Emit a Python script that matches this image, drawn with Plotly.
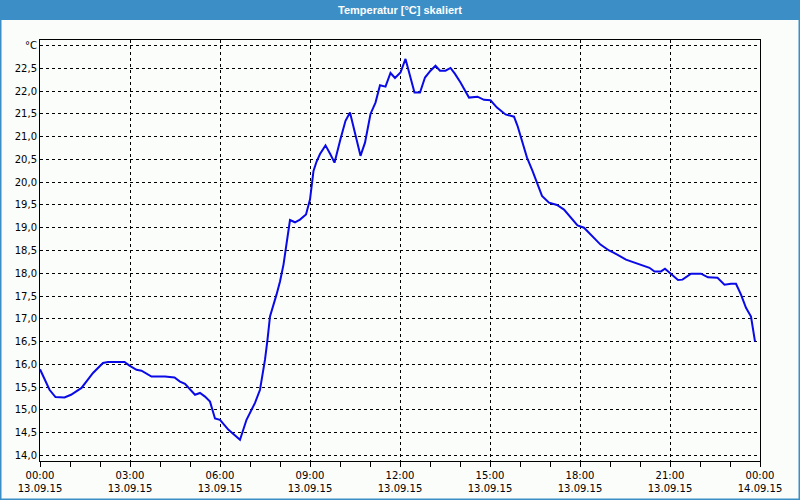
import plotly.graph_objects as go

# ---- data ----
times = ["00:00","00:10","00:19","00:31","00:49","01:02","01:23","01:46","02:06","02:16",
         "02:49","02:59","03:13","03:23","03:43","04:10","04:29","04:40","04:50","05:10",
         "05:20","05:30","05:40","05:50","06:00","06:17","06:30","06:40","06:53","07:10",
         "07:20","07:30","07:35","07:40","07:53","08:00","08:07","08:13","08:20","08:30",
         "08:40","08:52","09:00","09:07","09:13","09:20","09:31","09:41","09:49","10:01",
         "10:11","10:20","10:31","10:41","10:50","11:01","11:11","11:20","11:31","11:41",
         "11:50","12:01","12:11","12:20","12:29","12:40","12:50","13:01","13:11","13:20",
         "13:31","13:41","13:50","14:01","14:08","14:18","14:35","14:48","15:01","15:14",
         "15:31","15:48","15:55","16:05","16:14","16:25","16:35","16:44","16:58","17:14",
         "17:28","17:41","17:55","18:08","18:25","18:41","18:58","19:08","19:32","19:59",
         "20:19","20:29","20:42","20:50","21:01","21:16","21:25","21:42","22:02","22:16",
         "22:35","22:49","23:02","23:12","23:22","23:32","23:42","23:50"]
temps = [15.89,15.66,15.44,15.28,15.27,15.33,15.48,15.81,16.03,16.05,
         16.05,15.97,15.88,15.86,15.73,15.73,15.71,15.62,15.57,15.33,
         15.37,15.29,15.18,14.81,14.78,14.56,14.43,14.34,14.78,15.15,
         15.44,16.10,16.54,17.05,17.53,17.82,18.19,18.67,19.17,19.12,
         19.18,19.29,19.62,20.25,20.45,20.62,20.81,20.61,20.43,20.95,
         21.35,21.53,21.02,20.58,20.87,21.50,21.75,22.13,22.10,22.40,
         22.29,22.41,22.71,22.34,21.97,21.97,22.30,22.45,22.56,22.45,
         22.45,22.51,22.38,22.19,22.06,21.86,21.88,21.81,21.80,21.64,
         21.49,21.44,21.24,20.87,20.54,20.25,19.95,19.70,19.55,19.50,
         19.40,19.22,19.05,19.00,18.80,18.63,18.50,18.45,18.30,18.19,
         18.12,18.04,18.04,18.10,17.99,17.85,17.86,17.99,17.99,17.91,
         17.90,17.75,17.77,17.77,17.53,17.24,17.05,16.50]

x_tick_vals = ["2015-09-13 00:00","2015-09-13 03:00","2015-09-13 06:00","2015-09-13 09:00",
               "2015-09-13 12:00","2015-09-13 15:00","2015-09-13 18:00","2015-09-13 21:00",
               "2015-09-14 00:00"]
x_tick_text = ["00:00<br>13.09.15","03:00<br>13.09.15","06:00<br>13.09.15","09:00<br>13.09.15",
               "12:00<br>13.09.15","15:00<br>13.09.15","18:00<br>13.09.15","21:00<br>13.09.15",
               "00:00<br>14.09.15"]
y_tick_vals = [14.0,14.5,15.0,15.5,16.0,16.5,17.0,17.5,18.0,18.5,19.0,19.5,20.0,20.5,21.0,21.5,22.0,22.5,23.0]
y_tick_text = ["14,0","14,5","15,0","15,5","16,0","16,5","17,0","17,5","18,0","18,5",
               "19,0","19,5","20,0","20,5","21,0","21,5","22,0","22,5","°C"]
title_text = "Temperatur [°C] skaliert"

x = ["2015-09-13 " + t for t in times]

W, H = 800, 500
L, R, T, B = 40, 40, 40, 39
pw, ph = W - L - R, H - T - B

def px(xp):
    return (xp - L) / pw

def py(yp):
    return (H - B - yp) / ph

fig = go.Figure()
fig.add_trace(go.Scatter(x=x, y=temps, mode="lines",
                         line=dict(color="#0a0ae6", width=2), hoverinfo="skip"))

font = dict(family="DejaVu Sans", size=10, color="#000000")
fig.update_layout(
    template="none",
    width=W, height=H,
    margin=dict(l=L, r=R, t=T, b=B, pad=0),
    paper_bgcolor="#fbfdfb", plot_bgcolor="#fbfdfb",
    showlegend=False,
    font=font,
    xaxis=dict(type="date", range=["2015-09-13 00:00", "2015-09-14 00:00"], automargin=False,
               tickmode="array", tickvals=x_tick_vals, ticktext=x_tick_text,
               showgrid=True, gridcolor="#000000", gridwidth=1, griddash="3px,3px",
               showline=True, linecolor="#000000", linewidth=1, mirror=True,
               ticks="outside", ticklen=5, tickcolor="#000000",
               minor=dict(dtick=3600000, ticks="outside", ticklen=5, tickcolor="#000000", showgrid=False),
               tickfont=font, zeroline=False, fixedrange=True),
    yaxis=dict(range=[13.875, 23.125], automargin=False,
               tickmode="array", tickvals=y_tick_vals, ticktext=y_tick_text,
               showgrid=True, gridcolor="#000000", gridwidth=1, griddash="3px,3px",
               showline=True, linecolor="#000000", linewidth=1, mirror=True,
               ticks="", tickfont=font, zeroline=False, fixedrange=True),
    shapes=[
        dict(type="rect", xref="paper", yref="paper", x0=px(0), x1=px(W), y0=py(20), y1=py(0),
             fillcolor="#3c8fc6", line=dict(width=0), layer="above"),
        dict(type="rect", xref="paper", yref="paper", x0=px(0.5), x1=px(W - 0.5), y0=py(H - 0.5), y1=py(0.5),
             fillcolor="rgba(0,0,0,0)", line=dict(color="#3c8fc6", width=2), layer="above"),
    ],
    annotations=[
        dict(text=title_text, xref="paper", yref="paper", x=0.5, y=py(10), xanchor="center", yanchor="middle",
             showarrow=False, font=dict(family="Liberation Sans", size=11, color="#ffffff", weight="bold")),
    ],
)

fig.write_html("out.html")
